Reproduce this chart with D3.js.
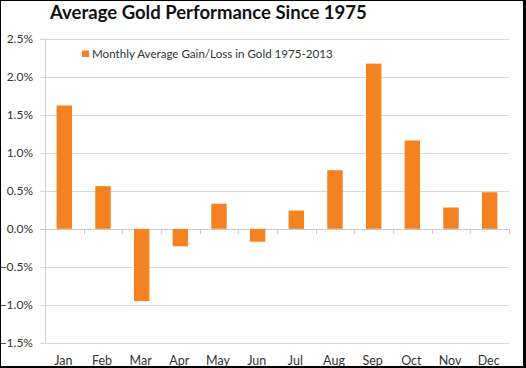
<!DOCTYPE html>
<html><head><meta charset="utf-8">
<script src="https://cdn.jsdelivr.net/npm/d3@7"></script>
<style>
html,body{margin:0;padding:0;background:#fff;}
svg{display:block;}
</style></head>
<body>
<script>
const months = ["Jan","Feb","Mar","Apr","May","Jun","Jul","Aug","Sep","Oct","Nov","Dec"];
const values = [1.62,0.56,-0.95,-0.23,0.33,-0.17,0.24,0.77,2.17,1.16,0.28,0.48];
const yTicks = [2.5,2.0,1.5,1.0,0.5,0.0,-0.5,-1.0,-1.5];
const title = "Average Gold Performance Since 1975";
const legendLabel = "Monthly Average Gain/Loss in Gold 1975-2013";

const W = 526, H = 368;
const svg = d3.select("body").append("svg").attr("width", W).attr("height", H);
svg.append("rect").attr("width", W).attr("height", H).attr("fill", "#fff");

const font = "Lato, 'Open Sans', sans-serif";
const x = d3.scaleBand().domain(months).range([45, 509]).paddingInner(0.6).paddingOuter(0.3);
const xb = d3.scaleBand().domain(months).range([45, 509]);
const y = d3.scaleLinear().domain([-1.5, 2.5]).range([343, 38.5]);

// gridlines
svg.append("g").selectAll("line").data(yTicks).join("line")
  .attr("x1", 40).attr("x2", 509)
  .attr("y1", d => Math.round(y(d)) + 0.5).attr("y2", d => Math.round(y(d)) + 0.5)
  .attr("stroke", d => d === 0 ? "#c8c8c8" : "#d9d9d9").attr("stroke-width", 1);

// y axis line
svg.append("line").attr("x1", 45.5).attr("x2", 45.5).attr("y1", y(2.5)).attr("y2", y(-1.5))
  .attr("stroke", "#d0d0d0");

// category ticks on zero line
const tickX = months.map(m => xb(m)).concat([xb.range()[1]]);
svg.append("g").selectAll("line").data(tickX).join("line")
  .attr("x1", d => Math.round(d) + 0.5).attr("x2", d => Math.round(d) + 0.5)
  .attr("y1", Math.round(y(0))).attr("y2", Math.round(y(0)) + 5)
  .attr("stroke", "#c8c8c8");

// bars
svg.append("g").selectAll("rect").data(values).join("rect")
  .attr("x", (d, i) => x(months[i]))
  .attr("width", x.bandwidth())
  .attr("y", d => y(Math.max(0, d)))
  .attr("height", d => Math.abs(y(d) - y(0)))
  .attr("fill", "#f58220");

// y labels
svg.append("g").selectAll("text").data(yTicks).join("text")
  .attr("x", 33).attr("y", d => y(d) + 4)
  .attr("text-anchor", "end")
  .attr("font-family", font).attr("font-size", 12).attr("fill", "#333")
  .text(d => d3.format(".1f")(d) + "%");

// x labels
svg.append("g").selectAll("text").data(months).join("text")
  .attr("x", m => xb(m) + xb.bandwidth() / 2 - 1).attr("y", 365)
  .attr("text-anchor", "middle")
  .attr("font-family", font).attr("font-size", 12.5).attr("fill", "#333")
  .text(m => m);

// legend
svg.append("rect").attr("x", 82).attr("y", 50.5).attr("width", 7).attr("height", 6.5).attr("fill", "#f58220");
const lt = svg.append("text").attr("x", 92).attr("y", 58)
  .attr("font-family", font).attr("font-size", 13).attr("fill", "#333").text(legendLabel);
fitWidth(lt, 241, 13);

// title
const tt = svg.append("text").attr("x", 50).attr("y", 19)
  .attr("font-family", font).attr("font-weight", "bold").attr("font-size", 18).attr("fill", "#111").text(title);
fitWidth(tt, 317, 18);

function fitWidth(sel, target, fs) {
  const w = sel.node().getComputedTextLength();
  if (w > 0) sel.attr("font-size", fs * target / w);
}

// frame
svg.append("line").attr("x1", 0.5).attr("x2", 0.5).attr("y1", 0).attr("y2", H).attr("stroke", "#000");
svg.append("line").attr("x1", 0).attr("x2", W).attr("y1", 0.5).attr("y2", 0.5).attr("stroke", "#000");
svg.append("rect").attr("x", 523).attr("y", 0).attr("width", 3).attr("height", H).attr("fill", "#000");
svg.append("rect").attr("x", 0).attr("y", 366).attr("width", W).attr("height", 2).attr("fill", "#000");
</script>
</body></html>
